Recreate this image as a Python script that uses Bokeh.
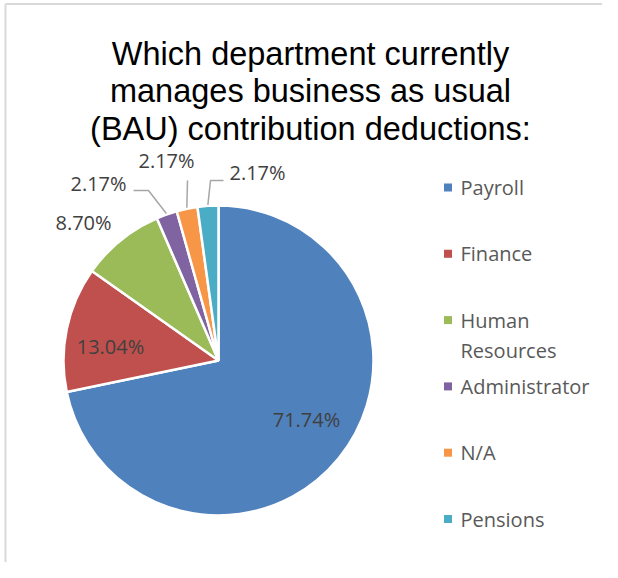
import numpy as np
from bokeh.plotting import figure
from bokeh.models import Range1d, ColumnDataSource
from bokeh.core.properties import value
from bokeh.embed import file_html
from bokeh.resources import INLINE

# ---------------- data ----------------
title_lines = ["Which department currently",
               "manages business as usual",
               "(BAU) contribution deductions:"]
categories = ["Payroll", "Finance", "Human Resources", "Administrator", "N/A", "Pensions"]
percent = [71.74, 13.04, 8.70, 2.17, 2.17, 2.17]
colors = ["#4F81BD", "#C0504D", "#9BBB59", "#8064A2", "#F79646", "#4BACC6"]

# ---------------- layout (image pixel coordinates) ----------------
W, H = 602, 562
def Y(py):
    return H - py

CX, CY, R = 218, 360, 155
title_x = 310
title_baselines = [53.3, 90.7, 128]
label_pos = [(306, 419), (110, 346), (83, 222), (98, 183), (166, 160), (257, 172)]
leader_elbows = {3: [(148, 190), (133, 190)], 4: [(187, 180)], 5: [(210, 180), (223, 180)]}
legend_x_sq, legend_x_txt, legend_y0, legend_dy = 447.5, 460, 187, 66.3

p = figure(width=W, height=H, x_range=Range1d(0, W), y_range=Range1d(0, H),
           output_backend="svg", toolbar_location=None, min_border=0)
p.xaxis.visible = False
p.yaxis.visible = False
p.xgrid.visible = False
p.ygrid.visible = False
p.outline_line_color = None
p.background_fill_color = "white"
p.border_fill_color = "white"

# chart frame (left and top edges visible)
p.segment(x0=[5, 5], y0=[Y(3.5), Y(3.5)], x1=[5, W], y1=[0, Y(3.5)],
          line_color="#d9d9d9", line_width=2)

# title
p.text(x=[title_x] * 3, y=[Y(b) for b in title_baselines], text=title_lines,
       text_font=value("Liberation Sans"), text_font_size="32.5px", text_color="#000000",
       text_align="center", text_baseline="alphabetic")

# pie
frac = np.array(percent) / sum(percent)
cum = np.concatenate([[0], np.cumsum(frac)])
start = np.pi / 2 - 2 * np.pi * cum[:-1]
end = np.pi / 2 - 2 * np.pi * cum[1:]
mid = (start + end) / 2
src = ColumnDataSource(dict(start=start, end=end, color=colors))
p.wedge(x=CX, y=Y(CY), radius=R, start_angle="start", end_angle="end", direction="clock",
        fill_color="color", line_color="white", line_width=2.5, source=src)

# leader lines
xs, ys = [], []
for i, pts in leader_elbows.items():
    sx = CX + (R + 1) * np.cos(mid[i])
    sy = Y(CY) + (R + 1) * np.sin(mid[i])
    xs.append([sx] + [q[0] for q in pts])
    ys.append([sy] + [Y(q[1]) for q in pts])
p.multi_line(xs=xs, ys=ys, line_color="#a6a6a6", line_width=1.5)

# data labels
labels = [f"{v:.2f}%" for v in percent]
p.text(x=[q[0] for q in label_pos], y=[Y(q[1]) for q in label_pos], text=labels,
       text_font=value("Open Sans"), text_font_size="20px", text_color="#404040",
       text_align="center", text_baseline="middle")

# legend
sq_x, sq_y, lt_x, lt_y, lt_t = [], [], [], [], []
for i, (cat, col) in enumerate(zip(categories, colors)):
    yy = legend_y0 + i * legend_dy
    sq_x.append(legend_x_sq)
    sq_y.append(Y(yy))
    words = cat.split(" ") if len(cat) > 13 else [cat]
    for j, w in enumerate(words):
        lt_x.append(legend_x_txt)
        lt_y.append(Y(yy + j * 30))
        lt_t.append(w)
p.scatter(x=sq_x, y=sq_y, marker="square", size=8, fill_color=colors, line_color=None)
p.text(x=lt_x, y=lt_y, text=lt_t, text_font=value("Open Sans"), text_font_size="20px",
       text_color="#595959", text_align="left", text_baseline="middle")

open("out.html", "w").write(file_html(p, INLINE))
